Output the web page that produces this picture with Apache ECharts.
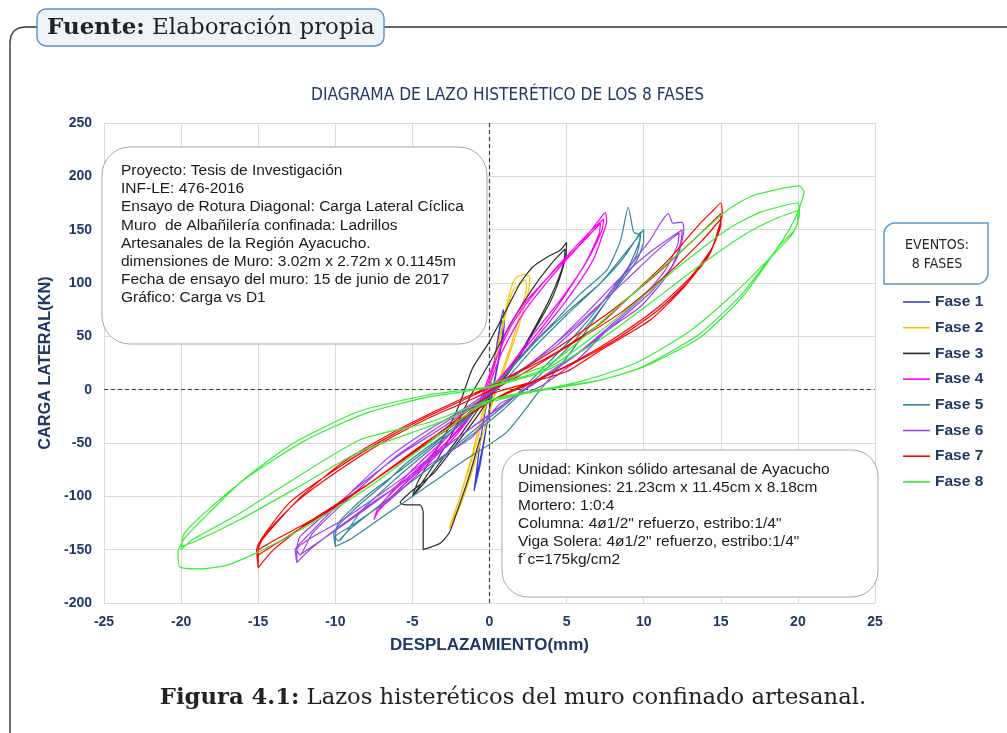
<!DOCTYPE html>
<html>
<head>
<meta charset="utf-8">
<script src="https://cdn.jsdelivr.net/npm/echarts@6/dist/echarts.min.js"></script>
<style>
  html, body { margin: 0; padding: 0; background: #fff; }
  #chart { width: 1007px; height: 733px; }
</style>
</head>
<body>
<div id="chart"></div>
<script>
// desplazamiento (mm), carga lateral (KN) — cada fase es un recorrido continuo de lazos
const fase1 = [
  [-0.9,-85],[-0.7,-60],[-0.4,-30],[0,0],[0.4,35],[0.7,62],[0.9,75],[0.95,60],[0.7,35],[0.3,5],[0,-20],[-0.4,-50],[-0.7,-72],[-0.9,-85],
  [-1.0,-95],[-0.75,-65],[-0.35,-25],[0.1,10],[0.5,42],[0.8,65],[0.85,55],[0.6,30],[0.2,0],[-0.2,-35],[-0.6,-70],[-1.0,-95]
]
const fase2 = [
  [-2.6,-130],[-2.3,-118],[-1.8,-95],[-1.2,-65],[-0.6,-30],[0,5],[0.6,45],[1.1,78],[1.5,100],[1.8,106],[2.3,108],[2.6,106],
  [2.6,100],[2.3,80],[1.8,55],[1.1,25],[0.3,-8],[-0.5,-45],[-1.2,-78],[-1.8,-105],[-2.3,-122],[-2.6,-130],
  [-2.5,-125],[-1.9,-100],[-1.2,-68],[-0.4,-25],[0.3,20],[0.9,62],[1.5,92],[2.3,103],
  [2.4,96],[2.0,72],[1.4,42],[0.6,8],[-0.3,-35],[-1.1,-75],[-1.8,-105],[-2.5,-125]
]
const fase3 = [
  [-5,-100],[-4.6,-85],[-3.8,-65],[-2.8,-40],[-1.9,-12],[-1.1,20],[0,45],[1.1,75],[2.0,100],[2.8,115],[3.7,124],[4.6,131],[5,138],
  [4.95,125],[4.4,98],[3.9,81],[3.0,58],[2.2,37],[1.2,15],[0.3,0],[-0.8,-20],[-2,-45],[-3.2,-68],[-4.2,-87],[-5,-100],
  [-4.8,-96],[-3.5,-68],[-2.3,-38],[-1.2,-5],[0,25],[1.5,65],[2.8,95],[4.0,118],[4.9,132],
  [4.8,118],[4.0,88],[3.0,60],[1.8,30],[0.6,5],[-0.8,-25],[-2.2,-52],[-3.6,-78],[-5.2,-97],[-5.8,-106],[-5.4,-108],[-4.5,-108],
  [-4.3,-115],[-4.3,-150],[-3.2,-144],[-2.6,-134],[-2.0,-110],[-1.3,-80],[-0.6,-45]
]
const fase4 = [
  [-7.5,-122],[-7.2,-110],[-6,-92],[-4.5,-72],[-3.2,-55],[-1.8,-35],[-0.6,-12],[0,10],[1.1,55],[2.2,80],[4.1,110],[5.9,137],[7,157],[7.5,166],
  [7.6,158],[7.4,148],[6.7,121],[5,84],[3.3,53],[1.5,22],[0,0],[-1.5,-25],[-3,-48],[-4.5,-68],[-6,-90],[-7,-108],[-7.5,-122],
  [-7.3,-115],[-6.2,-98],[-4.5,-75],[-2.5,-45],[-0.8,-15],[0.3,25],[1.5,62],[3,92],[4.8,122],[6.5,148],[7.4,160],
  [7.3,150],[6.5,125],[5.2,95],[3.6,62],[1.8,30],[0.2,2],[-1.5,-28],[-3.5,-60],[-5.5,-88],[-7.3,-115],
  [-7,-110],[-5.8,-95],[-4,-70],[-2,-40],[-0.3,-5],[0.8,35],[2.2,72],[3.8,102],[5.5,130],[7.2,156],
  [7.1,146],[6.2,118],[4.8,88],[3,55],[1.2,20],[-0.5,-8],[-2.5,-40],[-4.8,-78],[-7,-110]
]
const fase5 = [
  [-10,-147],[-10.1,-135],[-8.6,-110],[-6.8,-88],[-5.4,-69],[-3.2,-45],[-1.1,-22],[0.5,5],[2.6,40],[4.3,65],[5.9,90],[7.6,112],[8.5,140],[9.0,171],[9.3,150],[9.4,147],
  [9.8,145],[9.5,125],[8,92],[6.5,60],[5,30],[3.3,0],[1.1,-40],[-1.5,-65],[-3.2,-82],[-5.5,-105],[-7.5,-125],[-9,-140],[-10,-147],
  [-10,-138],[-9.8,-125],[-8.2,-102],[-6,-78],[-3.5,-50],[-1,-18],[0.8,10],[3,45],[5.2,75],[7.2,100],[8.8,128],[10,150],
  [10,140],[9.5,120],[8.2,95],[6.8,68],[5,38],[3,10],[0.8,-20],[-1.8,-50],[-4.5,-80],[-7.2,-110],[-9,-128],[-10,-138],
  [-9.8,-142],[-8.4,-115],[-6.2,-85],[-4,-58],[-1.5,-28],[0.5,0],[2.8,38],[5,70],[7,97],[8.6,122],[9.8,148],
  [9.7,138],[9,115],[7.5,85],[5.8,55],[3.8,25],[1.5,-8],[-1,-38],[-3.8,-72],[-6.8,-105],[-9,-130],[-9.8,-142]
]
const fase6 = [
  [-12.5,-162],[-12.6,-150],[-12,-140],[-9.7,-106],[-6.5,-63],[-4,-38],[-2.1,-22],[0,-2],[2.2,20],[4.4,42],[7.2,80],[8.5,105],[10.4,140],[11.6,165],[11.9,156],[12.5,157],
  [12.6,150],[12.2,125],[11.3,103],[9.8,78],[7.6,55],[5.7,28],[3.3,3],[0.7,-13],[-1.1,-44],[-3,-62],[-5.4,-85],[-7.5,-105],[-9.7,-128],[-11.5,-148],[-12.5,-162],
  [-12.5,-150],[-12.3,-138],[-10.5,-115],[-8,-85],[-5.5,-58],[-3,-35],[-0.8,-12],[1.5,12],[4,40],[6.5,75],[8.5,105],[10.5,130],[12.5,150],
  [12.4,138],[11.8,115],[10.5,92],[8.8,70],[6.5,42],[4.2,18],[1.8,-5],[-0.8,-32],[-3.5,-60],[-6.5,-92],[-9.5,-122],[-12.5,-150],
  [-12.3,-155],[-11.5,-135],[-9,-100],[-6,-62],[-3,-32],[0,-4],[3,28],[6,65],[8.8,102],[11,132],[12.3,147],
  [12.2,136],[11.4,112],[10,88],[8,62],[5.8,35],[3,8],[0.3,-20],[-2.5,-50],[-5.8,-88],[-9,-122],[-12.3,-155]
]
const fase7 = [
  [-15,-167],[-15.1,-150],[-14.7,-138],[-12.9,-105],[-9.7,-72],[-7,-48],[-4,-25],[-1,-5],[1.3,12],[4,32],[7.2,62],[9.3,90],[11.5,120],[13.6,155],[14.5,168],[15,175],
  [15.1,165],[15,158],[14.3,128],[12.6,96],[10.4,65],[7.2,37],[5,17],[2.2,5],[0,-5],[-3.2,-40],[-7.5,-85],[-11.8,-125],[-14,-150],[-15,-167],
  [-15,-155],[-14.9,-144],[-14,-128],[-12.2,-100],[-9.5,-68],[-6.5,-42],[-3.5,-20],[-0.5,0],[2,18],[5,45],[8,75],[10.8,108],[13.2,140],[15,165],
  [15,155],[14.4,132],[13,105],[11,78],[8.5,52],[6,30],[3.5,12],[0.8,-5],[-2,-30],[-5.5,-65],[-9.5,-105],[-12.8,-135],[-15,-155],
  [-15,-150],[-14.5,-135],[-12.5,-105],[-10,-78],[-7,-50],[-4,-27],[-1,-8],[1.8,12],[5,40],[8.5,72],[11.5,108],[13.8,140],[15,160],
  [14.9,150],[14.2,125],[12.8,100],[10.8,73],[8.2,47],[5.5,25],[2.5,5],[-0.5,-15],[-4,-48],[-8,-90],[-11.5,-122],[-13.8,-140],[-15,-150]
]
const fase8 = [
  [0,5],[4,25],[7.2,63],[9.95,98],[12.5,131],[15.4,168],[17.1,182],[20.1,191],[20.4,185],
  [20.2,175],[19.8,160],[19,140],[16.4,87],[13.65,49],[9.95,21],[7.2,9],[3.3,0],[0,-10],[-3.5,-45],[-7.5,-88],[-11.5,-125],[-14,-145],[-15.1,-153],[-17,-164.5],[-18.8,-168],[-20.1,-166],
  [-20.2,-152],[-19.8,-140],[-18.5,-120],[-16,-85],[-12.7,-50],[-8.4,-20],[-4,-5],[0,3],[4,22],[7.2,55],[10,88],[12.5,118],[15.4,150],[17.5,166],[20,175],
  [20.1,165],[19.8,150],[18.8,135],[16.4,90],[13.6,52],[10,22],[7.2,9],[3.3,-1],[0,-10],[-4,-31],[-8.4,-47],[-13.8,-94],[-16.2,-116],[-19.2,-140],[-20,-150],
  [-19.8,-135],[-18.2,-112],[-15.5,-80],[-12,-48],[-8,-22],[-4,-7],[0,2],[4,20],[7.5,50],[10.5,82],[13.5,115],[16.5,145],[18.5,160],[20,168],
  [20,158],[19.6,145],[18.5,128],[16,92],[13,55],[9.5,25],[6,8],[2.5,-3],[0,-12],[-4,-35],[-8.4,-58],[-12.5,-92],[-16.2,-122],[-19.2,-143],[-20,-147]
]

const fases = ['Fase 1', 'Fase 2', 'Fase 3', 'Fase 4', 'Fase 5', 'Fase 6', 'Fase 7', 'Fase 8']
const faseData = [fase1, fase2, fase3, fase4, fase5, fase6, fase7, fase8]
const colors = ['#3c3cdc', '#ffc000', '#2b2b2b', '#ff00ff', '#31869b', '#a040ec', '#ff0000', '#33f033']

const infoProyecto = [
  'Proyecto: Tesis de Investigación',
  'INF-LE: 476-2016',
  'Ensayo de Rotura Diagonal: Carga Lateral Cíclica',
  'Muro  de Albañilería confinada: Ladrillos',
  'Artesanales de la Región Ayacucho.',
  'dimensiones de Muro: 3.02m x 2.72m x 0.1145m',
  'Fecha de ensayo del muro: 15 de junio de 2017',
  'Gráfico: Carga vs D1'
]
const infoUnidad = [
  'Unidad: Kinkon sólido artesanal de Ayacucho',
  'Dimensiones: 21.23cm x 11.45cm x 8.18cm',
  'Mortero: 1:0:4',
  'Columna: 4ø1/2" refuerzo, estribo:1/4"',
  'Viga Solera: 4ø1/2" refuerzo, estribo:1/4"',
  'f´c=175kg/cm2'
]

const navy = '#1f3864'
const chart = echarts.init(document.getElementById('chart'))

const series = fases.map((name, i) => ({
  name,
  type: 'line',
  data: faseData[i],
  symbol: 'none',
  showSymbol: false,
  smooth: 0.2,
  lineStyle: { width: 1.2, color: colors[i] },
  itemStyle: { color: colors[i] },
  z: 3 + i
}))
series[0].markLine = {
  silent: true,
  symbol: ['none', 'none'],
  label: { show: false },
  lineStyle: { color: '#404040', type: [4, 3], width: 1.2 },
  data: [{ xAxis: 0 }, { yAxis: 0 }],
  animation: false
}

function textLines(lines, x, y0, step) {
  return lines.map((t, i) => ({
    type: 'text', z: 101,
    style: { text: t, x, y: y0 + i * step, fill: '#1a1a1a', font: '15.5px "Liberation Sans", Arial', verticalAlign: 'middle' }
  }))
}

const condensed = '"Liberation Sans Narrow", "DejaVu Sans Condensed", sans-serif'
const arial = '"Liberation Sans", Arial, sans-serif'

chart.setOption({
  animation: false,
  title: {
    text: 'DIAGRAMA DE LAZO HISTERÉTICO DE LOS 8 FASES',
    left: 306, top: 82,
    textStyle: { color: navy, fontSize: 17.2, fontWeight: 'normal', fontFamily: condensed }
  },
  grid: { left: 104, right: 132, top: 123, bottom: 130 },
  legend: {
    data: fases,
    orient: 'vertical',
    left: 898, top: 289,
    icon: 'rect',
    itemWidth: 27, itemHeight: 1.6, itemGap: 9.7,
    textStyle: { color: navy, fontWeight: 'bold', fontSize: 15.5, lineHeight: 16, fontFamily: arial }
  },
  xAxis: {
    type: 'value', min: -25, max: 25, interval: 5,
    name: 'DESPLAZAMIENTO(mm)', nameLocation: 'middle', nameGap: 34,
    nameTextStyle: { color: navy, fontWeight: 'bold', fontSize: 17, fontFamily: arial },
    axisLine: { show: false }, axisTick: { show: false },
    axisLabel: { color: navy, fontWeight: 'bold', fontSize: 14, margin: 12, fontFamily: arial },
    splitLine: { lineStyle: { color: '#d9d9d9', width: 1 } }
  },
  yAxis: {
    type: 'value', min: -200, max: 250, interval: 50,
    name: 'CARGA LATERAL(KN)', nameLocation: 'middle', nameGap: 48,
    nameTextStyle: { color: navy, fontWeight: 'bold', fontSize: 16.3, fontFamily: arial },
    axisLine: { show: false }, axisTick: { show: false },
    axisLabel: { color: navy, fontWeight: 'bold', fontSize: 14, margin: 12, fontFamily: arial },
    splitLine: { lineStyle: { color: '#d9d9d9', width: 1 } }
  },
  series,
  graphic: [
    // marco y etiqueta de fuente
    { type: 'polyline', z: 100, shape: { points: [[10, 733], [10, 42], [11, 36], [14, 31], [19, 28], [25, 27], [37, 27]] },
      style: { stroke: '#333', lineWidth: 1.4, fill: null } },
    { type: 'line', z: 100, shape: { x1: 384, y1: 27, x2: 1007, y2: 27 },
      style: { stroke: '#333', lineWidth: 1.4 } },
    { type: 'rect', z: 100, shape: { x: 37, y: 9, width: 347, height: 37, r: 9 },
      style: { fill: '#eef3f9', stroke: '#5a8fc8', lineWidth: 1.4 } },
    { type: 'text', z: 101, style: {
        text: '{b|Fuente:} Elaboración propia', x: 47, y: 28, verticalAlign: 'middle',
        font: '23px "DejaVu Serif", serif', fill: '#222',
        rich: { b: { fontWeight: 'bold', fontSize: 23, fontFamily: '"DejaVu Serif", serif', fill: '#222' } } } },
    // cuadro del proyecto
    { type: 'rect', z: 100, shape: { x: 102, y: 147, width: 385, height: 197, r: 28 },
      style: { fill: '#fff', stroke: '#a6a6a6', lineWidth: 1 } },
    ...textLines(infoProyecto, 121, 171, 18.1),
    // cuadro de la unidad
    { type: 'rect', z: 100, shape: { x: 502, y: 450, width: 376, height: 147, r: 26 },
      style: { fill: '#fff', stroke: '#a6a6a6', lineWidth: 1 } },
    ...textLines(infoUnidad, 518, 470, 18),
    // cuadro de eventos
    { type: 'rect', z: 100, shape: { x: 884, y: 223, width: 104, height: 61, r: [11, 0, 11, 0] },
      style: { fill: '#fff', stroke: '#5b9bd5', lineWidth: 1.5 } },
    { type: 'text', z: 101, style: { text: 'EVENTOS:', x: 937, y: 245, align: 'center', verticalAlign: 'middle',
        font: '14px ' + condensed, fill: '#262626' } },
    { type: 'text', z: 101, style: { text: '8 FASES', x: 937, y: 264, align: 'center', verticalAlign: 'middle',
        font: '14px ' + condensed, fill: '#262626' } },
    // pie de figura
    { type: 'text', z: 101, style: {
        text: '{b|Figura 4.1:} Lazos histeréticos del muro confinado artesanal.', x: 513, y: 698,
        align: 'center', verticalAlign: 'middle', font: '22.7px "DejaVu Serif", serif', fill: '#222',
        rich: { b: { fontWeight: 'bold', fontSize: 22.7, fontFamily: '"DejaVu Serif", serif', fill: '#222' } } } }
  ]
})
</script>
</body>
</html>
